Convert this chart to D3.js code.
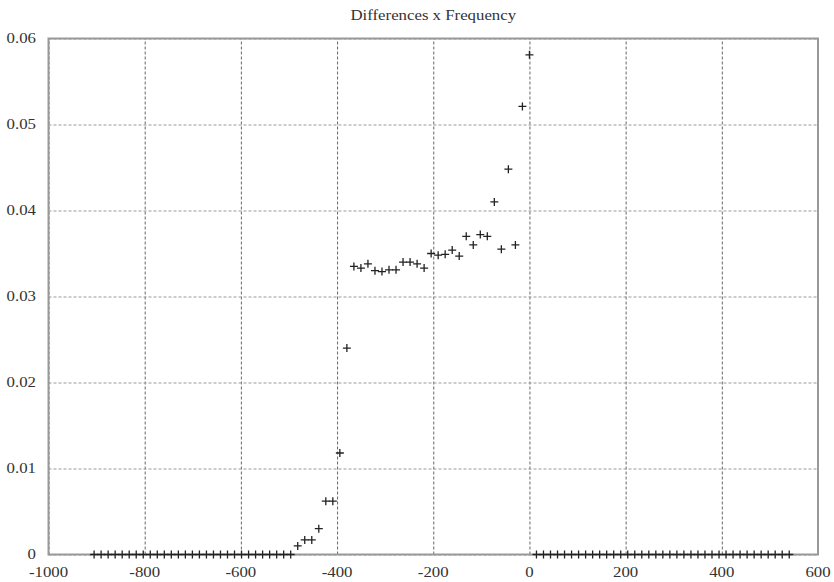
<!DOCTYPE html>
<html>
<head>
<meta charset="utf-8">
<script src="https://cdnjs.cloudflare.com/ajax/libs/d3/7.8.5/d3.min.js"></script>
<style>
	body { margin: 0; background: #fff; }
	svg text { font-family: "Liberation Serif", "DejaVu Serif", serif; fill: #333; }
</style>
</head>
<body>
<div id="chart"></div>
<script>
// differences (x) and frequency (y) for the non-zero bins
var diffs = [0, -14.6, -29.2, -43.8, -58.4, -73, -87.6, -102.2, -116.8, -131.4,
	-146, -160.6, -175.2, -189.8, -204.4, -219, -233.6, -248.2, -262.8, -277.4,
	-292, -306.6, -321.2, -335.8, -350.4, -365, -379.6, -394.2, -408.8, -423.4,
	-438, -452.6, -467.2, -481.8];
var freqs = [0.0581, 0.0521, 0.0360, 0.0448, 0.0355, 0.0410, 0.0370, 0.0372, 0.0360, 0.0370,
	0.0347, 0.0354, 0.0349, 0.0348, 0.0350, 0.0333, 0.0338, 0.0340, 0.0340, 0.0331,
	0.0331, 0.0329, 0.0330, 0.0338, 0.0333, 0.0335, 0.0240, 0.0118, 0.0062, 0.0062,
	0.0030, 0.0017, 0.0017, 0.0010];

// bins with zero frequency
var zeroLeft = [-496.4, -511, -525.6, -540.2, -554.8, -569.4, -584, -598.6, -613.2, -627.8,
	-642.4, -657, -671.6, -686.2, -700.8, -715.4, -730, -744.6, -759.2, -773.8,
	-788.4, -803, -817.6, -832.2, -846.8, -861.4, -876, -890.6, -905.2];
var zeroRight = [14.6, 29.2, 43.8, 58.4, 73, 87.6, 102.2, 116.8, 131.4, 146,
	160.6, 175.2, 189.8, 204.4, 219, 233.6, 248.2, 262.8, 277.4, 292,
	306.6, 321.2, 335.8, 350.4, 365, 379.6, 394.2, 408.8, 423.4, 438,
	452.6, 467.2, 481.8, 496.4, 511, 525.6, 540.2];

var xTicks = [-1000, -800, -600, -400, -200, 0, 200, 400, 600];
var yTicks = [0, 0.01, 0.02, 0.03, 0.04, 0.05, 0.06];
var title = 'Differences x Frequency';

var width = 834,
	height = 582,
	plotLeft = 48.5,
	plotRight = 818,
	plotTop = 38.5,
	plotBottom = 554.5,
	stretch = 1.2; // text in the picture is a bit wide

var svg = d3.select('#chart')
	.append('svg')
	.attr('width', width)
	.attr('height', height);

var x = d3.scaleLinear().domain([-1000, 600]).range([plotLeft, plotRight]);
var y = d3.scaleLinear().domain([0, 0.06]).range([plotBottom, plotTop]);

// grid lines
svg.append('g')
	.attr('transform', 'translate(0,' + plotBottom + ')')
	.call(d3.axisBottom(x).tickValues(xTicks).tickSize(-(plotBottom - plotTop)).tickFormat(''))
	.call(function(g) {
		g.select('.domain').remove();
		g.selectAll('line')
			.attr('stroke', '#666')
			.attr('stroke-dasharray', '3,2');
	});
svg.append('g')
	.attr('transform', 'translate(' + plotLeft + ',0)')
	.call(d3.axisLeft(y).tickValues(yTicks).tickSize(-(plotRight - plotLeft)).tickFormat(''))
	.call(function(g) {
		g.select('.domain').remove();
		g.selectAll('line')
			.attr('stroke', '#999')
			.attr('stroke-dasharray', '3,2');
	});

// tick labels
svg.append('g')
	.selectAll('text')
	.data(xTicks)
	.enter()
	.append('text')
	.attr('transform', function(d) { return 'translate(' + x(d) + ',577) scale(' + stretch + ',1)'; })
	.attr('text-anchor', 'middle')
	.attr('font-size', 14)
	.attr('fill', '#333')
	.text(function(d) { return d; });
svg.append('g')
	.selectAll('text')
	.data(yTicks)
	.enter()
	.append('text')
	.attr('transform', function(d) { return 'translate(36,' + (y(d) + 4.5) + ') scale(' + stretch + ',1)'; })
	.attr('text-anchor', 'end')
	.attr('font-size', 14)
	.attr('fill', '#333')
	.text(function(d) { return d === 0 ? '0' : d3.format('.2f')(d); });

// plot border
svg.append('rect')
	.attr('x', plotLeft)
	.attr('y', plotTop)
	.attr('width', plotRight - plotLeft)
	.attr('height', plotBottom - plotTop)
	.attr('fill', 'none')
	.attr('stroke', '#999')
	.attr('stroke-width', 2);

// title
svg.append('text')
	.attr('transform', 'translate(' + ((plotLeft + plotRight) / 2) + ',20) scale(' + stretch + ',1)')
	.attr('text-anchor', 'middle')
	.attr('font-size', 14)
	.attr('fill', '#333')
	.text(title);

// points as plus marks
var points = diffs.map(function(d, i) { return [d, freqs[i]]; })
	.concat(zeroLeft.map(function(d) { return [d, 0]; }))
	.concat(zeroRight.map(function(d) { return [d, 0]; }));

svg.append('g')
	.selectAll('path')
	.data(points)
	.enter()
	.append('path')
	.attr('transform', function(d) { return 'translate(' + x(d[0]) + ',' + y(d[1]) + ')'; })
	.attr('d', 'M-4,0H4M0,-4V4')
	.attr('stroke', '#222')
	.attr('stroke-width', 1.3)
	.attr('fill', 'none');
</script>
</body>
</html>
